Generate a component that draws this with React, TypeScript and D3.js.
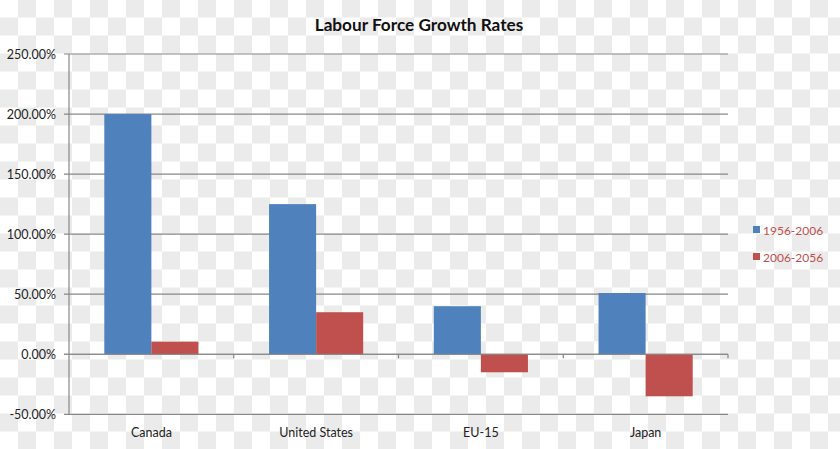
import React from "react";
import * as d3 from "d3";

const categories = ["Canada", "United States", "EU-15", "Japan"];
const seriesNames = ["1956-2006", "2006-2056"];
const values1956 = [2.0, 1.25, 0.4, 0.51];
const values2006 = [0.105, 0.35, -0.15, -0.35];
const yTicks = [-0.5, 0, 0.5, 1.0, 1.5, 2.0, 2.5];
const colors = ["#4f81bd", "#c0504d"];

const W = 840;
const H = 449;
const font = "Lato, 'Open Sans', sans-serif";

export default function App() {
  const x0 = d3.scaleBand<string>().domain(categories).range([69, 728]).paddingInner(0).paddingOuter(0);
  const bw = x0.bandwidth();
  const x1 = d3.scaleBand<string>().domain(seriesNames).range([0, bw]).paddingInner(0).paddingOuter(0.75);
  const y = d3.scaleLinear().domain([-0.5, 2.5]).range([414.3, 54]);
  const fmt = (v: number) => (v * 100).toFixed(2) + "%";
  const series = [values1956, values2006];

  const cols = Math.ceil(W / 18);
  const rows = Math.ceil(H / 18);
  const cells: JSX.Element[] = [];
  for (let r = 0; r < rows; r++) {
    for (let c = 0; c < cols; c++) {
      if ((r + c) % 2 === 1) {
        cells.push(<rect key={`c${r}-${c}`} x={c * 18} y={r * 18 - 0.5} width={18} height={18} fill="#ebebeb" />);
      }
    }
  }

  const y0 = y(0);
  const boundaries = categories.map((_, i) => 69 + bw * (i + 1));

  return (
    <svg width={W} height={H} style={{ position: "absolute", left: 0, top: 0 }} fontFamily={font}>
      <rect x={0} y={0} width={W} height={H} fill="#ffffff" />
      {cells}
      <text x={419} y={31} textAnchor="middle" fontWeight="bold" fontSize={17.2} fill="#111">
        Labour Force Growth Rates
      </text>
      {yTicks.map((t) => (
        <g key={t}>
          <line x1={64} x2={728} y1={y(t)} y2={y(t)} stroke="#878787" strokeWidth={1.2} />
          <text x={56} y={y(t) + 4.5} textAnchor="end" fontSize={12.5} fill="#222">
            {fmt(t)}
          </text>
        </g>
      ))}
      <line x1={69} x2={69} y1={y(2.5)} y2={y(-0.5)} stroke="#878787" strokeWidth={1.2} />
      {categories.map((cat, i) =>
        series.map((vals, s) => {
          const v = vals[i];
          const top = Math.min(y(v), y0);
          const h = Math.abs(y(v) - y0);
          return (
            <rect
              key={cat + s}
              x={(x0(cat) ?? 0) + (x1(seriesNames[s]) ?? 0)}
              y={top}
              width={x1.bandwidth()}
              height={h}
              fill={colors[s]}
            />
          );
        })
      )}
      <line x1={64} x2={728} y1={y0} y2={y0} stroke="#878787" strokeWidth={1.2} />
      {boundaries.map((bx, i) => (
        <line key={i} x1={bx} x2={bx} y1={y0} y2={y0 + 4} stroke="#878787" strokeWidth={1.2} />
      ))}
      {categories.map((cat) => (
        <text key={cat} x={(x0(cat) ?? 0) + bw / 2} y={437} textAnchor="middle" fontSize={12.5} fill="#222">
          {cat}
        </text>
      ))}
      {seriesNames.map((name, s) => (
        <g key={name}>
          <rect x={753} y={226 + s * 27} width={7} height={7} fill={colors[s]} />
          <text x={763} y={235 + s * 27} fontSize={12} fill="#c0504d">
            {name}
          </text>
        </g>
      ))}
    </svg>
  );
}
